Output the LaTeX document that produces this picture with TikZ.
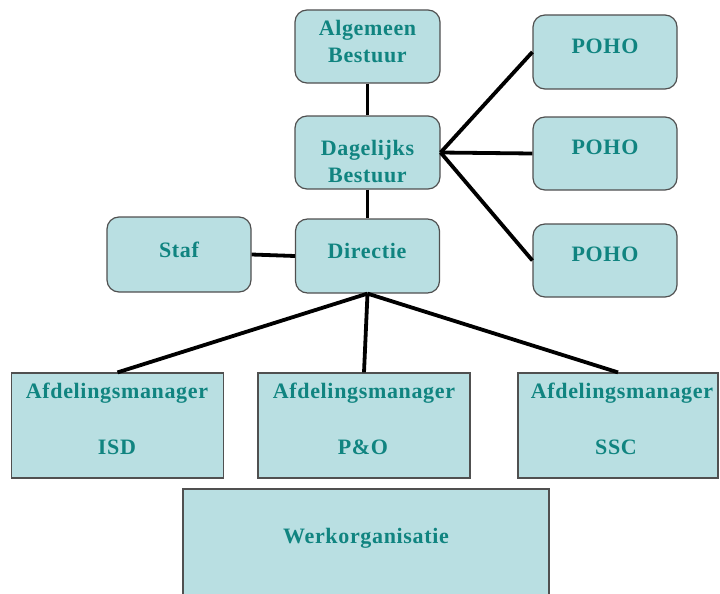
\documentclass[tikz,border=0pt]{standalone}
\usepackage{fontspec}
\setmainfont{Liberation Serif}[LetterSpace=3]
\definecolor{boxfill}{RGB}{185,223,226}
\definecolor{labelteal}{RGB}{16,132,128}
\definecolor{edgegray}{RGB}{80,80,80}

\begin{document}
\begin{tikzpicture}[x=1pt,y=-1pt,
  boxbase/.style={draw=edgegray, line width=1.2pt, fill=boxfill, inner sep=0pt},
  roundbox/.style={boxbase, rounded corners=12pt},
  flatbox/.style={boxbase},
  lbl/.style={text=labelteal, font=\fontsize{22}{27}\selectfont\bfseries, anchor=base, inner sep=0pt},
  link/.style={line width=3.8pt, black}]

\useasboundingbox (0,0) rectangle (720,594);

% boxes
\node[roundbox, minimum width=145pt, minimum height=73pt] (alg) at (367.5,46.5) {};
\node[roundbox, minimum width=145pt, minimum height=73pt] (dag) at (367.5,152.5) {};
\node[roundbox, minimum width=144pt, minimum height=74pt] (dir) at (367.5,256) {};
\node[roundbox, minimum width=144pt, minimum height=75pt] (staf) at (179,254.5) {};
\node[roundbox, minimum width=144pt, minimum height=74pt] (pohoA) at (605,52) {};
\node[roundbox, minimum width=144pt, minimum height=73pt] (pohoB) at (605,153.5) {};
\node[roundbox, minimum width=144pt, minimum height=73pt] (pohoC) at (605,260.5) {};
\node[flatbox, minimum width=212pt, minimum height=105pt] (isd) at (117.5,425.5) {};
\node[flatbox, minimum width=212pt, minimum height=105pt] (po) at (364,425.5) {};
\node[flatbox, minimum width=200pt, minimum height=105pt] (ssc) at (618,425.5) {};
\node[flatbox, minimum width=366pt, minimum height=130pt] (werk) at (366,554) {};

% connectors
\draw[link] (alg.south) -- (dag.north);
\draw[link] (dag.south) -- (dir.north);
\draw[link] (staf.east) -- (dir.west);
\draw[link] (dag.east) -- (pohoA.west);
\draw[link] (dag.east) -- (pohoB.west);
\draw[link] (dag.east) -- (pohoC.west);
\draw[link] (dir.south) -- (isd.north);
\draw[link] (dir.south) -- (po.north);
\draw[link] (dir.south) -- (ssc.north);

% labels
\node[lbl] (tAlg1) at (367.5,36) {Algemeen};
\node[lbl] (tAlg2) at (367.5,63) {Bestuur};
\node[lbl] (tDag1) at (367.5,155) {Dagelijks};
\node[lbl] (tDag2) at (367.5,182) {Bestuur};
\node[lbl] (tDir) at (367,258) {Directie};
\node[lbl] (tStaf) at (179,257) {Staf};
\node[lbl] (tPohoA) at (605,53) {POHO};
\node[lbl] (tPohoB) at (605,154) {POHO};
\node[lbl] (tPohoC) at (605,261) {POHO};
\node[lbl] (tIsd1) at (117,398) {Afdelingsmanager};
\node[lbl] (tIsd2) at (117,454) {ISD};
\node[lbl] (tPo1) at (364,398) {Afdelingsmanager};
\node[lbl] (tPo2) at (363,454) {P\&O};
\node[lbl] (tSsc1) at (622,398) {Afdelingsmanager};
\node[lbl] (tSsc2) at (616,454) {SSC};
\node[lbl] (tWerk) at (366,543) {Werkorganisatie};
\end{tikzpicture}
\end{document}
